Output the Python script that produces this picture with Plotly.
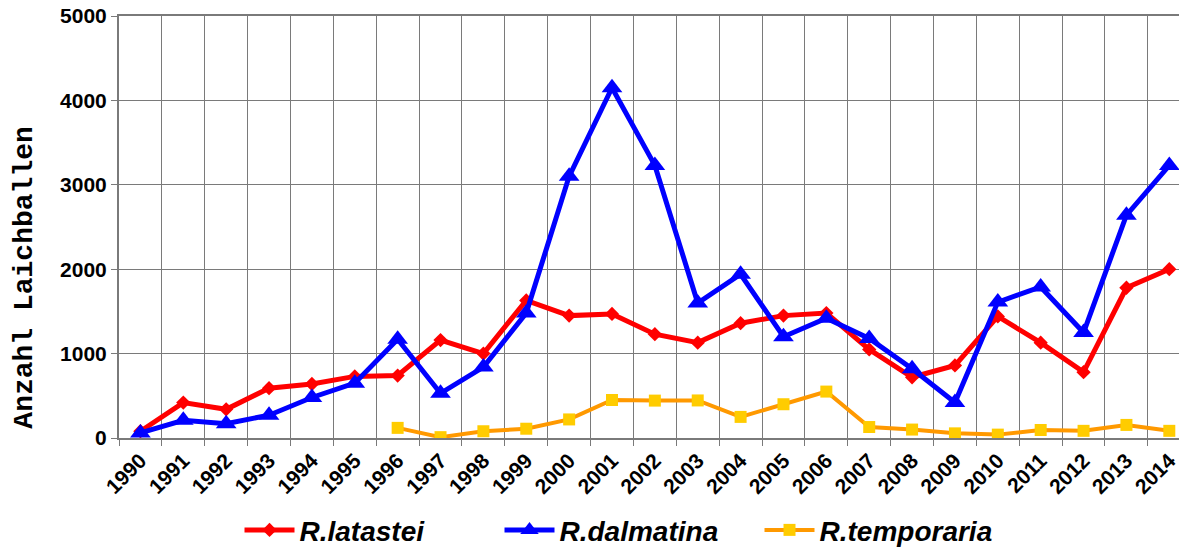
import plotly.graph_objects as go

years = [str(y) for y in range(1990, 2015)]
latastei = [80, 420, 340, 590, 640, 730, 740, 1160, 1000, 1630, 1450, 1470, 1230, 1130, 1360,
            1450, 1480, 1050, 720, 860, 1440, 1130, 780, 1780, 2000]
dalmatina = [60, 210, 170, 270, 480, 650, 1170, 530, 840, 1480, 3100, 4150, 3230, 1600, 1940,
             1200, 1420, 1180, 820, 420, 1610, 1790, 1250, 2640, 3230]
temporaria = [None, None, None, None, None, None, 120, 10, 80, 110, 220, 450, 443, 445, 250,
              400, 550, 130, 100, 55, 40, 95, 85, 155, 85]
y_ticks = [0, 1000, 2000, 3000, 4000, 5000]

fig = go.Figure()
fig.add_trace(go.Scatter(x=years, y=latastei, name="R.latastei", mode="lines+markers",
                         line=dict(color="#FF0000", width=5),
                         marker=dict(symbol="diamond", size=11, color="#FF0000")))
fig.add_trace(go.Scatter(x=years, y=dalmatina, name="R.dalmatina", mode="lines+markers",
                         line=dict(color="#0000FF", width=5),
                         marker=dict(symbol="triangle-up", size=18, color="#0000FF")))
fig.add_trace(go.Scatter(x=years, y=temporaria, name="R.temporaria", mode="lines+markers",
                         line=dict(color="#FF9900", width=4),
                         marker=dict(symbol="square", size=12, color="#FFCC00")))

fig.update_layout(
    width=1179, height=540,
    margin=dict(l=111, r=0, t=8, b=110),
    paper_bgcolor="white", plot_bgcolor="white",
    font=dict(family="Liberation Sans, Arial", color="black"),
    showlegend=True,
    legend=dict(orientation="h", x=0.478, xanchor="center",
                yref="container", y=0.033, yanchor="middle",
                font=dict(size=28, family="Liberation Sans, Arial"),
                entrywidth=195, itemwidth=50),
    xaxis=dict(type="category", range=[-0.5, 24.413], tickson="boundaries", automargin=False,
               showgrid=True, gridcolor="#7a7a7a", gridwidth=1.3,
               showline=True, linecolor="#7a7a7a", linewidth=2, mirror=True,
               ticks="outside", ticklen=6, tickcolor="#7a7a7a",
               tickangle=-45, tickfont=dict(size=21, family="Liberation Sans, Arial"),
               tickvals=years, ticktext=["<b>%s</b>" % y for y in years]),
    yaxis=dict(range=[0, 5000], tickvals=y_ticks, ticktext=["<b>%d</b>" % v for v in y_ticks],
               automargin=False, ticklabeloverflow="allow",
               showgrid=True, gridcolor="#7a7a7a", gridwidth=1.3, zeroline=False,
               showline=True, linecolor="#7a7a7a", linewidth=2,
               ticks="outside", ticklen=6, tickcolor="#7a7a7a",
               tickfont=dict(size=21, family="Liberation Sans, Arial")),
    annotations=[dict(text="<b>Anzahl Laichballen</b>", textangle=-90, xref="paper", yref="paper",
                      x=-0.088, y=0.38, xanchor="center", yanchor="middle", showarrow=False,
                      font=dict(size=28, family="Liberation Mono, Courier New", color="black"))],
)
for tr in fig.data:
    tr.name = "<b><i>%s</i></b>" % tr.name

fig.write_html("out.html")
